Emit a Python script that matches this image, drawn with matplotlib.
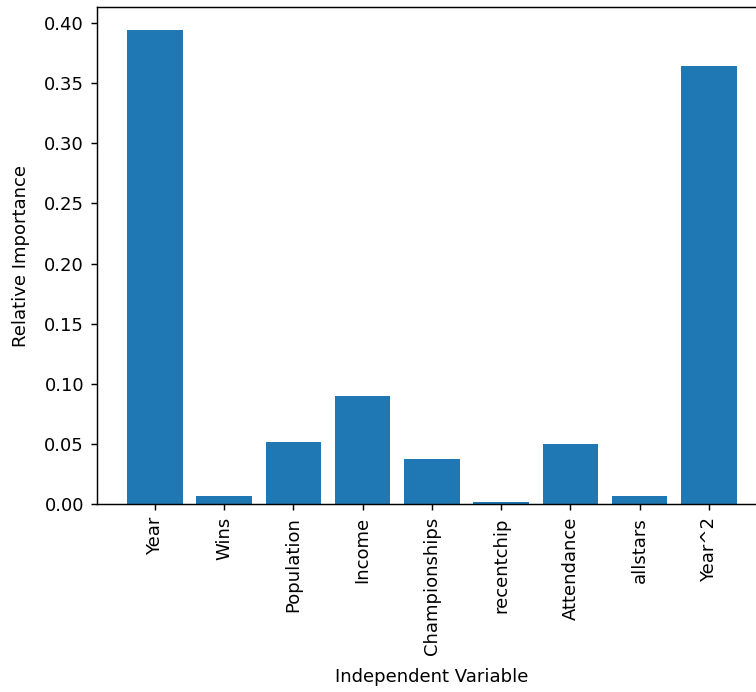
import matplotlib
matplotlib.use('Agg')
import matplotlib.pyplot as plt

# Variables and their relative importance
variables = ['Year', 'Wins', 'Population', 'Income', 'Championships',
             'recentchip', 'Attendance', 'allstars', 'Year^2']
importance = [0.3937, 0.0070, 0.0518, 0.0899, 0.0375,
              0.0018, 0.0499, 0.0070, 0.3640]

dpi = 130
fig = plt.figure(figsize=(756 / dpi, 692 / dpi), dpi=dpi)
# axes runs past the right edge of the picture, as in the original crop
ax = fig.add_axes([0.1279, 0.2710, 0.8867, 0.7193])
ax.bar(variables, importance)
ax.set_xlabel('Independent Variable', labelpad=7)
ax.set_ylabel('Relative Importance', labelpad=8)
plt.xticks(rotation=90)
fig.savefig('out.png', dpi=dpi)
